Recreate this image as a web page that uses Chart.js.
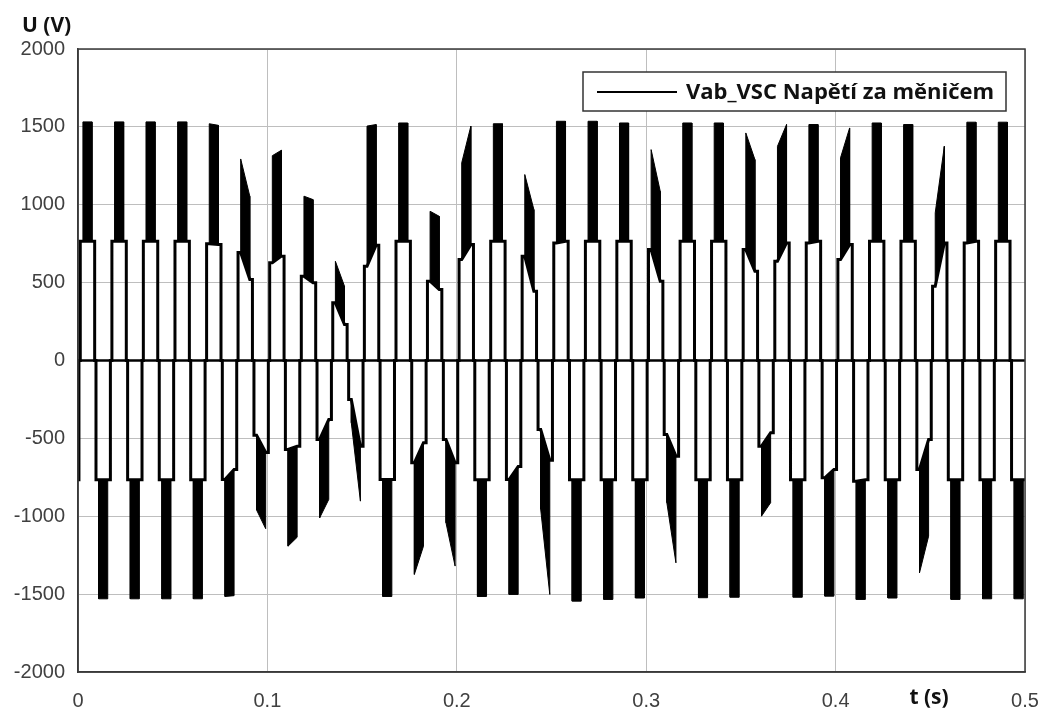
<!DOCTYPE html>
<html>
<head>
<meta charset="utf-8">
<script src="https://cdn.jsdelivr.net/npm/chart.js@4.4.0/dist/chart.umd.min.js"></script>
<style>
html, body { margin: 0; padding: 0; background: #fff; }
</style>
</head>
<body>
<canvas id="myChart" width="1042" height="712"></canvas>
<script>
// one entry per half wave of Vab (60 Hz)
var pulseCenter = [-0.0033,
    0.0050, 0.0133, 0.0217, 0.0300, 0.0383, 0.0467, 0.0550, 0.0633, 0.0717, 0.0800,
    0.0883, 0.0967, 0.1050, 0.1133, 0.1217, 0.1300, 0.1383, 0.1467, 0.1550, 0.1633,
    0.1717, 0.1800, 0.1883, 0.1967, 0.2050, 0.2133, 0.2217, 0.2300, 0.2383, 0.2467,
    0.2550, 0.2633, 0.2717, 0.2800, 0.2883, 0.2967, 0.3050, 0.3133, 0.3217, 0.3300,
    0.3383, 0.3467, 0.3550, 0.3633, 0.3717, 0.3800, 0.3883, 0.3967, 0.4050, 0.4133,
    0.4217, 0.4300, 0.4383, 0.4467, 0.4550, 0.4633, 0.4717, 0.4800, 0.4883, 0.4967];
// middle step level at start / end of each half wave (V)
var plateauStart = [-766,
    766, -766, 766, -766, 766, -766, 766, -766, 750, -764,
    693, -480, 627, -571, 541, -507, 370, -250, 605, -764,
    766, -657, 509, -507, 648, -766, 766, -764, 669, -443,
    755, -766, 766, -766, 766, -766, 712, -475, 766, -766,
    766, -766, 712, -550, 637, -766, 755, -753, 648, -775,
    766, -766, 766, -700, 477, -766, 755, -766, 766, -766];
var plateauEnd = [-766,
    766, -766, 766, -766, 766, -766, 766, -766, 745, -700,
    520, -590, 670, -550, 499, -379, 231, -550, 740, -764,
    766, -528, 456, -657, 744, -766, 766, -680, 445, -640,
    766, -766, 766, -766, 766, -766, 509, -614, 766, -766,
    766, -766, 573, -464, 755, -766, 766, -700, 744, -766,
    766, -766, 766, -507, 755, -766, 766, -766, 766, -766];
// outer edge of the switching band at start / end of each half wave (V)
var peakStart = [null,
    1532, -1530, 1532, -1530, 1532, -1530, 1532, -1530, 1520, -1515,
    1294, -960, 1315, -1192, 1055, -1010, 637, -400, 1505, -1515,
    1525, -1373, 958, -1042, 1269, -1515, 1520, -1502, 1194, -956,
    1536, -1545, 1536, -1534, 1525, -1525, 1354, -913, 1525, -1523,
    1525, -1520, 1461, -999, 1375, -1520, 1515, -1513, 1301, -1534,
    1525, -1525, 1515, -1363, 948, -1534, 1530, -1530, 1530, -1530];
var peakEnd = [null,
    1532, -1530, 1532, -1530, 1532, -1530, 1532, -1530, 1510, -1510,
    1055, -1080, 1350, -1135, 1033, -892, 477, -903, 1515, -1515,
    1525, -1192, 926, -1320, 1504, -1515, 1520, -1502, 969, -1502,
    1536, -1545, 1536, -1534, 1525, -1525, 1087, -1299, 1525, -1523,
    1525, -1520, 1290, -913, 1515, -1520, 1515, -1513, 1493, -1534,
    1525, -1525, 1515, -1128, 1375, -1534, 1530, -1530, 1530, -1530];

var timeTicks = [0, 0.1, 0.2, 0.3, 0.4, 0.5];
var voltTicks = [-2000, -1500, -1000, -500, 0, 500, 1000, 1500, 2000];
var seriesLabel = 'Vab_VSC Napětí za měničem';

var halfWave = 0.0038;   // s, half width of one step block
var bandHalf = 0.0024;   // s, half width of the switching band

var outline = [];
var bands = [];
for (var i = 0; i < pulseCenter.length; i++) {
    var c = pulseCenter[i];
    var a = c - halfWave, b = c + halfWave;
    var b1 = c - bandHalf, b2 = c + bandHalf;
    outline.push({x: a, y: 0}, {x: a, y: plateauStart[i]}, {x: b1, y: plateauStart[i]},
                 {x: b2, y: plateauEnd[i]}, {x: b, y: plateauEnd[i]}, {x: b, y: 0});
    if (peakStart[i] !== null) {
        bands.push({x: b1, y: plateauStart[i]}, {x: b1, y: peakStart[i]},
                   {x: b2, y: peakEnd[i]}, {x: b2, y: plateauEnd[i]}, {x: b2, y: null});
    }
}
var zeroLevel = [{x: 0, y: 0}, {x: 0.5, y: 0}];

var labelFont = '"Liberation Sans", Arial, sans-serif';
var boldFont = '"Open Sans", Lato, sans-serif';

var frameAndText = {
    id: 'frameAndText',
    afterDraw: function (chart) {
        var ctx = chart.ctx, ca = chart.chartArea;
        ctx.save();
        ctx.strokeStyle = '#3a3a3a';
        ctx.lineWidth = 1.5;
        ctx.strokeRect(ca.left, ca.top, ca.right - ca.left, ca.bottom - ca.top);

        ctx.fillStyle = '#111';
        ctx.font = 'bold 21px ' + boldFont;
        ctx.textBaseline = 'alphabetic';
        ctx.textAlign = 'left';
        ctx.fillText('U (V)', 22, 32);
        ctx.textAlign = 'center';
        ctx.fillText('t (s)', 929, 704);

        // legend box
        var lx = 583, ly = 72, lw = 423, lh = 39;
        ctx.fillStyle = '#fff';
        ctx.fillRect(lx, ly, lw, lh);
        ctx.strokeStyle = '#333';
        ctx.lineWidth = 1.5;
        ctx.strokeRect(lx, ly, lw, lh);
        ctx.strokeStyle = '#000';
        ctx.lineWidth = 2;
        ctx.beginPath();
        ctx.moveTo(597, 92);
        ctx.lineTo(677, 92);
        ctx.stroke();
        ctx.fillStyle = '#111';
        ctx.textAlign = 'left';
        ctx.font = 'bold 22px ' + boldFont;
        ctx.fillText(seriesLabel, 686, 99);
        ctx.restore();
    }
};

var ctx = document.getElementById('myChart').getContext('2d');
var myChart = new Chart(ctx, {
    type: 'scatter',
    data: {
        datasets: [{
            label: seriesLabel + ' band',
            data: bands,
            showLine: true,
            spanGaps: false,
            borderColor: '#000',
            backgroundColor: '#000',
            borderWidth: 1,
            fill: 'shape'
        },
        {
            label: seriesLabel,
            data: outline,
            showLine: true,
            borderColor: '#000',
            borderWidth: 3,
            fill: false
        },
        {
            label: 'zero',
            data: zeroLevel,
            showLine: true,
            borderColor: '#000',
            borderWidth: 2.5,
            fill: false
        }]
    },
    options: {
        responsive: false,
        animation: false,
        layout: { padding: { left: 0, right: 17, top: 49, bottom: 0 } },
        elements: { point: { radius: 0, hoverRadius: 0 }, line: { tension: 0, borderJoinStyle: 'miter' } },
        plugins: {
            legend: { display: false },
            tooltip: { enabled: false }
        },
        scales: {
            x: {
                type: 'linear',
                min: 0,
                max: 0.5,
                afterBuildTicks: function (scale) {
                    scale.ticks = timeTicks.map(function (v) { return {value: v}; });
                },
                afterFit: function (scale) {
                    scale.height = 40;
                    scale.paddingLeft = 0;
                    scale.paddingRight = 0;
                },
                grid: { color: '#bebebe', lineWidth: 1, drawTicks: false },
                border: { color: '#3a3a3a', width: 1.5 },
                ticks: {
                    padding: 17,
                    color: '#404040',
                    font: { family: labelFont, size: 20 },
                    maxRotation: 0,
                    callback: function (v) { return String(v); }
                }
            },
            y: {
                min: -2000,
                max: 2000,
                afterBuildTicks: function (scale) {
                    scale.ticks = voltTicks.map(function (v) { return {value: v}; });
                },
                afterFit: function (scale) {
                    scale.width = 78;
                    scale.paddingTop = 0;
                    scale.paddingBottom = 0;
                },
                grid: { color: '#bebebe', lineWidth: 1, drawTicks: false },
                border: { color: '#3a3a3a', width: 1.5 },
                ticks: {
                    padding: 13,
                    color: '#404040',
                    font: { family: labelFont, size: 20 },
                    callback: function (v) { return String(v); }
                }
            }
        }
    },
    plugins: [frameAndText]
});
</script>
</body>
</html>
